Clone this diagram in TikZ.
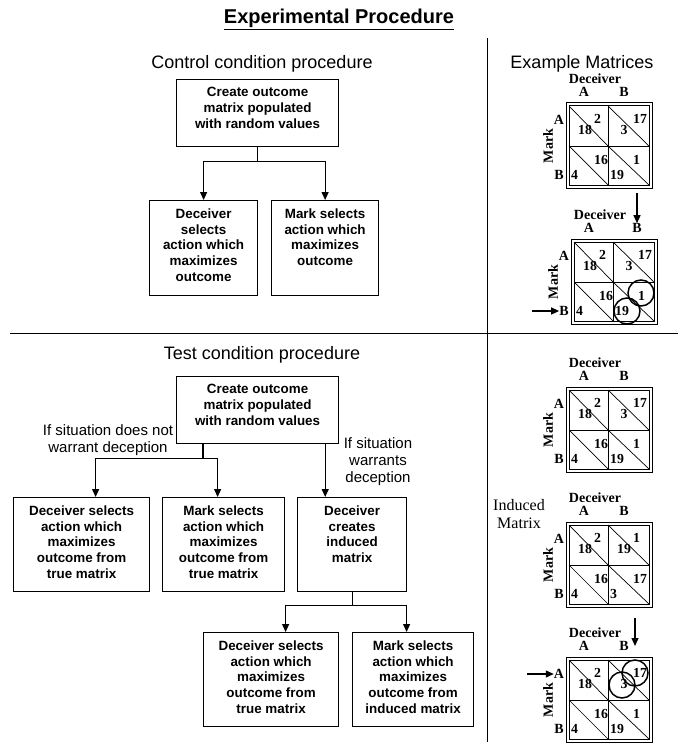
\documentclass[tikz,border=0pt]{standalone}
\usepackage{fontspec}
\setmainfont{Liberation Sans}
\newfontfamily\mtxserif{Liberation Serif}
\usetikzlibrary{arrows.meta,calc}

\newcommand{\boxfont}{\fontsize{13.4}{15.8}\selectfont\bfseries}
\newcommand{\boxtxt}[3]{\parbox[c][#2][t]{#1}{\centering\vspace*{8pt}#3}}
\newcommand{\colbx}{58}

\tikzset{
  procbox/.style={draw, line width=1.2pt, inner sep=0pt, anchor=north west, font=\boxfont},
  link/.style={line width=1.2pt},
  arr/.style={link, -{Triangle[length=8pt,width=7pt]}},
  sepline/.style={line width=0.9pt},
  heading/.style={font=\fontsize{18}{20}\selectfont, inner sep=0pt, anchor=base},
  note/.style={font=\fontsize{15}{17}\selectfont, align=center, inner sep=0pt},
  mframe/.style={line width=1pt},
  mgrid/.style={line width=0.7pt},
  mnum/.style={font=\mtxserif\bfseries\fontsize{13.8}{14}\selectfont, inner sep=0pt},
  mlab/.style={font=\mtxserif\bfseries\fontsize{14}{15}\selectfont, inner sep=0pt},
  pick/.style={draw, circle, line width=1.5pt, minimum size=26pt, inner sep=0pt},
}

% one payoff matrix: prefix, then top/bottom values of AA, AB, BA, BB
\newcommand{\paymatrix}[9]{%
  \draw[mframe] (0,0) rectangle (86,85);
  \draw[mframe] (3,3) rectangle (83,82);
  \draw[mgrid] (42,3) -- (42,82) (3,43) -- (83,43);
  \draw[mgrid] (3,3) -- (42,43) -- (83,82) (42,3) -- (83,43) (3,43) -- (42,82);
  \node[mlab] (#1-dec) at (29,-24) {Deceiver};
  \node[mlab] (#1-colA) at (18,-11) {A};
  \node[mlab] (#1-colB) at (\colbx,-11) {B};
  \node[mlab] (#1-rowA) at (-7,17) {A};
  \node[mlab] (#1-rowB) at (-7,72) {B};
  \node[mlab, rotate=90] (#1-mark) at (-18,43) {Mark};
  \node[mnum, anchor=west] (#1-aa1) at (28,16) {#2};
  \node[mnum] (#1-aa2) at (19,27) {#3};
  \node[mnum, anchor=west] (#1-ab1) at (67,16) {#4};
  \node[mnum] (#1-ab2) at (58,27) {#5};
  \node[mnum, anchor=west] (#1-ba1) at (28,57) {#6};
  \node[mnum, anchor=west] (#1-ba2) at (5,72) {#7};
  \node[mnum, anchor=west] (#1-bb1) at (67,57) {#8};
  \node[mnum, anchor=west] (#1-bb2) at (44,72) {#9};
}

\begin{document}
\begin{tikzpicture}[x=1pt, y=-1pt]
\useasboundingbox (0,0) rectangle (678,746);
% headings and separators
\node[font=\fontsize{20}{22}\selectfont\bfseries, inner sep=0pt, anchor=base] (title) at (339,24) {\underline{Experimental Procedure}};
\node[heading] (ctrlhead) at (262,69) {Control condition procedure};
\node[heading] (exhead) at (582,69) {Example Matrices};
\node[heading] (testhead) at (262,359) {Test condition procedure};
\draw[sepline] (487,38) -- (487,742);
\draw[sepline] (10,333) -- (678,333);

% control condition
\node[procbox] (c-create) at (176,79) {\boxtxt{162pt}{67pt}{Create outcome\\matrix populated\\with random values}};
\node[procbox] (c-dec) at (149,200) {\boxtxt{108pt}{95pt}{Deceiver\\selects\\action which\\maximizes\\outcome}};
\node[procbox] (c-mark) at (271,200) {\boxtxt{107pt}{95pt}{Mark selects\\action which\\maximizes\\outcome}};
\draw[link] (c-create.south) -- ++(0,14) coordinate (c-split);
\draw[arr] (c-split) -| (c-dec.north);
\draw[arr] (c-split) -| (c-mark.north);

% test condition
\node[procbox] (t-create) at (176,376) {\boxtxt{162pt}{67pt}{Create outcome\\matrix populated\\with random values}};
\node[procbox] (t-dec) at (13,497) {\boxtxt{136pt}{94pt}{Deceiver selects\\action which\\maximizes\\outcome from\\true matrix}};
\node[procbox] (t-mark) at (162,497) {\boxtxt{122pt}{94pt}{Mark selects\\action which\\maximizes\\outcome from\\true matrix}};
\node[procbox] (t-induce) at (297,497) {\boxtxt{109pt}{94pt}{Deceiver\\creates\\induced\\matrix}};
\node[procbox] (t-dec2) at (203,632) {\boxtxt{135pt}{94pt}{Deceiver selects\\action which\\maximizes\\outcome from\\true matrix}};
\node[procbox] (t-mark2) at (352,632) {\boxtxt{121pt}{94pt}{Mark selects\\action which\\maximizes\\outcome from\\induced matrix}};
\node[note] (nowarrant) at (108,440) {If situation does not\\warrant deception};
\node[note] (warrant) at (378,462) {If situation\\warrants\\deception};
\draw[link] ([xshift=27pt]t-create.south west) -- ++(0,14) coordinate (t-split);
\draw[arr] (t-split) -| ([xshift=14pt]t-dec.north);
\draw[arr] (t-split) -| ([xshift=-6pt]t-mark.north);
\draw[arr] ([xshift=-14pt]t-create.south east) -- ([xshift=-14pt]t-create.south east |- t-induce.north);
\draw[link] (t-induce.south) -- ++(0,13) coordinate (t-split2);
\draw[arr] (t-split2) -| ([xshift=14.5pt]t-dec2.north);
\draw[arr] (t-split2) -| ([xshift=-6.5pt]t-mark2.north);

% example matrices
\begin{scope}[shift={(566,103)}]
  \paymatrix{m1}{2}{18}{17}{3}{16}{4}{1}{19}
\end{scope}
\begin{scope}[shift={(571,239)}]
  \renewcommand{\colbx}{66}
  \paymatrix{m2}{2}{18}{17}{3}{16}{4}{1}{19}
  \coordinate (m2-from) at (66,-46);
  \draw[arr] (m2-from) -- (m2-colB.north);
  \coordinate (m2-from2) at (-39,72);
  \draw[arr] (m2-from2) -- (m2-rowB.west);
  \node[pick] (m2-o1) at (70,54) {};
  \node[pick] (m2-o2) at (56,72) {};
\end{scope}
\begin{scope}[shift={(566,387)}]
  \paymatrix{m3}{2}{18}{17}{3}{16}{4}{1}{19}
\end{scope}
\node[font=\mtxserif\fontsize{16}{18}\selectfont, align=center, inner sep=0pt] (induced) at (519,514) {Induced\\Matrix};
\begin{scope}[shift={(566,522)}]
  \paymatrix{m4}{2}{18}{1}{19}{16}{4}{17}{3}
\end{scope}
\begin{scope}[shift={(566,657)}]
  \paymatrix{m5}{2}{18}{17}{3}{16}{4}{1}{19}
  \coordinate (m5-from) at (69,-39);
  \draw[arr] (m5-from) -- (m5-from |- m5-colB.center);
  \coordinate (m5-from2) at (-39,17);
  \draw[arr] (m5-from2) -- (m5-rowA.west);
  \node[pick] (m5-o1) at (69,16) {};
  \node[pick] (m5-o2) at (56,28) {};
\end{scope}
\end{tikzpicture}
\end{document}
